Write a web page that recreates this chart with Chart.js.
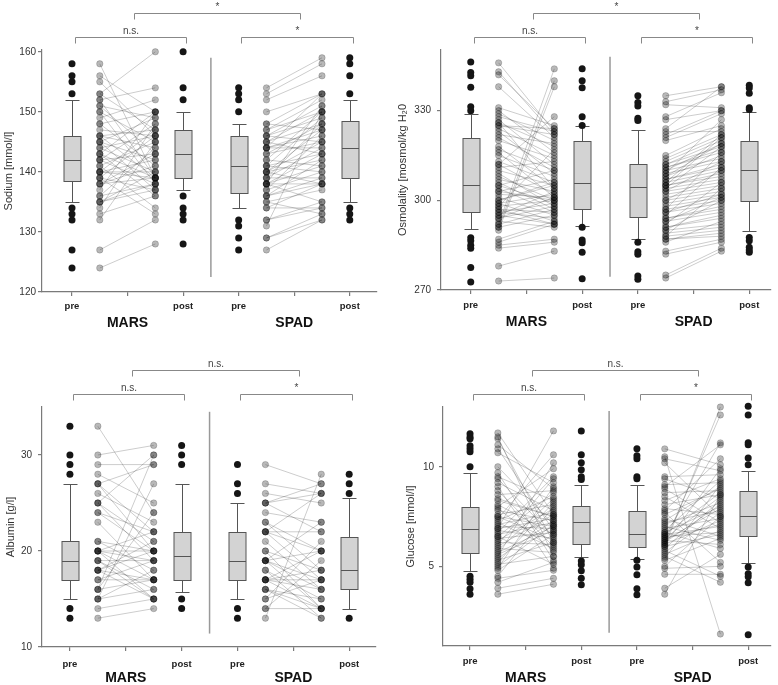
<!DOCTYPE html>
<html>
<head>
<meta charset="utf-8">
<script src="https://cdn.jsdelivr.net/npm/chart.js@4.4.1/dist/chart.umd.min.js"></script>
<style>
    body { margin: 0; background: #fff; }
    #grid { position: relative; width: 778px; height: 685px; overflow: hidden; }
    canvas { position: absolute; }
</style>
</head>
<body>
<div id="grid">
    <canvas id="cNa" width="389" height="342" style="left:0;top:0"></canvas>
    <canvas id="cOsm" width="389" height="342" style="left:389px;top:0"></canvas>
    <canvas id="cAlb" width="389" height="343" style="left:0;top:342px"></canvas>
    <canvas id="cGlu" width="389" height="343" style="left:389px;top:342px"></canvas>
</div>
<script>
// Kategorien / x-Positionen
const boxX = [1, 3, 4, 6];
const tickLabels = ['pre', 'post', 'pre', 'post'];
const groups = ['MARS', 'SPAD'];
const groupX = [2, 5];

// Natrium
const naMarsPre = [158,156,155,153,153,152,152,151,151,150,150,149,148,148,147,146,146,146,145,145,145,144,144,143,143,143,142,142,142,141,141,140,140,140,140,139,139,139,138,138,138,137,136,136,135,135,135,134,133,132,127,124];
const naMarsPost = [139,150,146,160,147,154,139,149,143,145,138,152,150,141,146,147,139,144,149,137,142,146,140,150,139,136,148,143,138,145,134,147,139,142,140,137,146,133,143,141,139,150,144,138,138,140,137,148,136,145,132,128];
const naSpadPre = [154,153,152,150,148,148,147,147,146,146,146,145,145,145,144,144,144,144,143,143,142,142,141,141,141,140,140,140,140,139,139,139,138,138,138,138,138,137,137,136,136,136,135,135,134,134,132,132,131,129,129,127];
const naSpadPost = [159,158,156,153,153,147,150,152,151,149,145,148,150,143,153,146,147,144,148,145,150,141,149,143,140,142,147,138,145,148,139,144,151,141,143,138,135,146,140,138,142,139,137,133,134,138,135,134,150,133,132,132];
// Boxplots: [Whisker unten, Q1, Median, Q3, Whisker oben] für MARS pre, MARS post, SPAD pre, SPAD post
const naBoxes = [[135,138.5,142,146,152],[137,139,143,147,150],[134,136.5,141,146,148],[135,139,144,148.5,152]];
const naOutliers = [[158,156,155,153,134,133,132,127,124],[160,154,152,136,134,133,132,128],[154,153,152,150,132,131,129,127],[159,158,156,153,134,133,132]];
const naYTicks = [120,130,140,150,160];
const naSig = ['*', 'n.s.', '*'];

// Osmolalität
const osmMarsPre = [346,343,342,338,331,330,329,328,327,326,325,325,324,323,322,321,320,318,317,316,315,313,312,311,310,309,308,307,306,305,305,304,303,302,301,300,299,299,298,298,297,296,296,295,295,294,293,292,292,291,291,290,287,286,285,284,278,273,312,303,300,297,294,326];
const osmMarsPost = [323,322,324,321,325,316,320,323,312,318,324,322,315,309,319,311,314,304,310,301,308,306,302,313,305,298,300,303,297,310,299,296,307,301,295,305,302,293,300,317,296,294,299,303,292,298,291,344,297,340,295,338,293,292,287,286,283,274,328,300,306,292,301,304];
const osmSpadPre = [335,333,332,328,327,324,323,322,321,320,315,314,313,312,312,311,311,310,310,309,309,308,307,307,306,306,305,305,304,304,303,303,302,301,300,300,299,298,297,297,296,295,294,294,293,292,291,291,290,290,289,288,288,287,287,286,283,282,275,274,305,308,296,293];
const osmSpadPost = [338,337,331,336,330,338,323,330,329,325,324,322,321,318,320,317,316,319,314,313,327,315,312,311,322,310,309,308,318,307,313,306,305,304,310,303,302,301,300,316,299,311,298,297,296,306,295,294,300,292,291,290,304,289,288,293,287,286,284,283,321,319,302,301];
const osmBoxes = [[290.4,296,305,321,329],[291.4,297.2,305.8,319.7,325],[287,294.5,304.5,312,323.5],[289.7,299.7,310,319.7,329.6]];
const osmOutliers = [[346.3,342.8,341.7,337.8,331.3,330,287.5,286.5,285,284,277.5,272.7],[344,340,337.7,328,325,291,286.7,285.8,282.6,273.8],[335,332.7,331.6,327.5,326.7,286,282.8,282,274.7,273.6],[338.5,337.6,335.8,331,330.4,287.6,286.5,284.3,283.4,282.6]];
const osmYTicks = [270,300,330];
const osmSig = ['*', 'n.s.', '*'];

// Albumin
const albMarsPre = [33,30,29,28,27,27,27,26,25,25,25,24,24,23,21,21,20,20,20,20,20,19,19,19,18,18,18,18,17,17,16,16,16,15,15,15,14,13];
const albMarsPost = [24,31,29,25,29,22,20,23,30,21,19,22,20,17,20,18,20,19,17,15,22,19,16,15,20,17,21,15,17,19,24,30,17,16,18,27,15,14];
const albSpadPre = [29,27,26,25,25,25,24,23,23,22,22,22,22,21,20,20,19,19,19,19,19,18,18,17,17,17,17,17,16,16,16,15,15,14,14,13];
const albSpadPost = [27,26,25,26,27,22,23,20,18,26,22,17,20,16,18,14,23,17,16,14,20,15,13,20,16,14,18,17,15,14,13,21,17,19,14,28];
const albBoxes = [[15,17,19,21,27],[15.7,17,19.5,22,27],[15,17,19,22,25],[14,16,18,21.5,25.5]];
const albOutliers = [[33,30,29,28,14,13],[31,30,29,15,14],[29,27,26,14,13],[28,27,26,13]];
const albYTicks = [10,20,30];
const albSig = ['n.s.', 'n.s.', '*'];

// Glukose
const gluMarsPre = [11.7,11.5,11.4,11.1,10.9,10.7,10.0,9.7,9.5,9.4,9.2,9.0,8.8,8.6,8.4,8.3,8.1,8.0,7.9,7.8,7.6,7.5,7.5,7.4,7.3,7.2,7.1,7.0,6.9,6.9,6.8,6.7,6.6,6.5,6.5,6.4,6.3,6.2,6.1,6.0,5.9,5.8,5.7,5.6,5.5,5.4,5.3,5.2,5.1,5.0,4.9,4.8,4.5,4.4,4.2,3.9,3.6];
const gluMarsPost = [7.6,5.5,6.2,8.9,6.8,9.2,7.1,5.3,8.3,6.5,7.8,4.9,6.0,8.8,7.5,7.5,6.6,9.9,5.8,7.3,8.1,7.0,6.3,10.6,8.5,5.9,7.7,6.9,11.8,7.4,6.4,9.5,7.2,5.1,8.7,6.7,7.9,6.1,9.4,7.6,5.7,8.4,7.0,6.8,10.2,7.3,6.2,8.2,5.5,7.1,9.0,6.6,8.0,4.8,5.2,4.4,4.1];
const gluSpadPre = [10.9,10.5,10.4,10.2,9.5,9.4,9.1,9.0,8.9,8.7,8.5,8.3,8.1,7.9,7.8,7.7,7.6,7.4,7.3,7.2,7.1,7.0,6.9,6.8,6.7,6.7,6.6,6.6,6.5,6.5,6.4,6.4,6.3,6.3,6.2,6.2,6.1,6.1,6.0,6.0,5.9,5.8,5.7,5.6,5.5,5.4,5.3,5.0,4.9,4.6,3.9,3.6];
const gluSpadPost = [10.1,1.6,9.8,7.5,9.6,8.4,9.2,11.1,7.2,8.8,6.9,9.4,8.6,7.6,10.4,5.2,8.9,6.5,9.0,7.8,8.2,6.3,7.4,9.3,8.0,5.9,7.0,8.7,6.7,11.2,8.5,7.1,7.9,6.1,12.6,8.1,7.3,9.9,13.0,6.6,8.3,4.5,7.7,6.8,4.2,9.1,6.4,7.5,5.0,4.6,5.6,8.6];
const gluBoxes = [[4.76,5.69,6.88,8.0,9.7],[5.45,6.14,7.23,8.04,9.1],[5.39,5.99,6.6,7.77,9.1],[5.18,6.51,7.53,8.76,9.8]];
const gluOutliers = [[11.66,11.5,11.4,11.06,10.9,10.75,10.0,4.5,4.35,4.2,3.88,3.6],[11.8,10.6,10.2,9.85,9.5,9.36,5.27,5.08,4.78,4.4,4.08],[10.9,10.55,10.4,9.5,9.4,5.3,4.97,4.58,3.88,3.57],[13.04,12.6,11.2,11.1,10.44,10.1,4.97,4.63,4.48,4.18,1.56]];
const gluYTicks = [5,10];
const gluSig = ['n.s.', 'n.s.', '*'];

Chart.defaults.font.family = '"Liberation Sans", Arial, sans-serif';

const axisColor = '#7a7a7a';

// Chart für ein Panel erzeugen
function makePanel(id, d, lay) {
    const datasets = [];
    const pairDots = [];

    // Verbindungslinien pre -> post
    [[d.marsPre, d.marsPost, 1.5], [d.spadPre, d.spadPost, 4.5]].forEach(function(g) {
        g[0].forEach(function(v, i) {
            datasets.push({
                data: [{x: g[2], y: v}, {x: g[2] + 1, y: g[1][i]}],
                showLine: true,
                borderColor: 'rgba(0, 0, 0, 0.2)',
                borderWidth: 1,
                pointRadius: 0,
                clip: false,
                order: 3
            });
            pairDots.push({x: g[2], y: v}, {x: g[2] + 1, y: g[1][i]});
        });
    });

    datasets.push({
        data: pairDots,
        pointRadius: 3.2,
        backgroundColor: 'rgba(0, 0, 0, 0.28)',
        borderColor: 'rgba(0, 0, 0, 0.3)',
        borderWidth: 0.6,
        clip: false,
        order: 1
    });

    const outPts = [];
    d.outliers.forEach(function(arr, k) {
        arr.forEach(function(v) { outPts.push({x: boxX[k], y: v}); });
    });
    datasets.push({
        data: outPts,
        pointRadius: 3.5,
        backgroundColor: '#151515',
        borderWidth: 0,
        clip: false,
        order: 0
    });

    // Boxplots, Trennlinie, Klammern, Gruppennamen
    const deco = {
        id: 'deco',
        beforeDatasetsDraw(chart) {
            const ctx = chart.ctx, xs = chart.scales.x, ys = chart.scales.y;
            ctx.save();
            ctx.strokeStyle = '#555';
            ctx.lineWidth = 1;
            d.boxes.forEach(function(b, k) {
                const cx = Math.round(xs.getPixelForValue(boxX[k])) + 0.5;
                const p = b.map(function(v) { return Math.round(ys.getPixelForValue(v)) + 0.5; });
                ctx.beginPath();
                ctx.moveTo(cx, p[4]); ctx.lineTo(cx, p[3]);
                ctx.moveTo(cx, p[1]); ctx.lineTo(cx, p[0]);
                ctx.moveTo(cx - 7, p[4]); ctx.lineTo(cx + 7, p[4]);
                ctx.moveTo(cx - 7, p[0]); ctx.lineTo(cx + 7, p[0]);
                ctx.stroke();
                ctx.fillStyle = '#d3d3d3';
                ctx.fillRect(cx - 8.5, p[3], 17, p[1] - p[3]);
                ctx.strokeRect(cx - 8.5, p[3], 17, p[1] - p[3]);
                ctx.beginPath();
                ctx.moveTo(cx - 8.5, p[2]); ctx.lineTo(cx + 8.5, p[2]);
                ctx.stroke();
            });
            ctx.restore();
        },
        afterDraw(chart) {
            const ctx = chart.ctx, xs = chart.scales.x, ys = chart.scales.y;
            const top = chart.chartArea.top, bottom = chart.chartArea.bottom;
            ctx.save();

            // Trennlinie MARS | SPAD
            ctx.strokeStyle = '#999';
            ctx.lineWidth = 1.5;
            ctx.beginPath();
            ctx.moveTo(xs.getPixelForValue(3.5), ys.getPixelForValue(d.divider[1]));
            ctx.lineTo(xs.getPixelForValue(3.5), ys.getPixelForValue(d.divider[0]));
            ctx.stroke();

            // Signifikanz-Klammern
            const brackets = [[2.12, 5.1, d.sig[0], 37], [1.05, 3.05, d.sig[1], 13], [4.05, 6.05, d.sig[2], 13]];
            ctx.strokeStyle = '#888';
            ctx.lineWidth = 1;
            ctx.fillStyle = '#444';
            ctx.font = '10px "Liberation Sans", Arial, sans-serif';
            ctx.textAlign = 'center';
            ctx.textBaseline = 'bottom';
            brackets.forEach(function(b) {
                const x1 = Math.round(xs.getPixelForValue(b[0])) + 0.5;
                const x2 = Math.round(xs.getPixelForValue(b[1])) + 0.5;
                const y = Math.round(top - b[3]) + 0.5;
                ctx.beginPath();
                ctx.moveTo(x1, y + 6); ctx.lineTo(x1, y); ctx.lineTo(x2, y); ctx.lineTo(x2, y + 6);
                ctx.stroke();
                ctx.fillText(b[2], (x1 + x2) / 2, y - 1);
            });

            // Gruppennamen
            ctx.fillStyle = '#111';
            ctx.font = 'bold 14px "Liberation Sans", Arial, sans-serif';
            ctx.textBaseline = 'middle';
            groups.forEach(function(g, k) {
                ctx.fillText(g, xs.getPixelForValue(groupX[k]), bottom + lay.groupY);
            });
            ctx.restore();
        }
    };

    return new Chart(document.getElementById(id), {
        type: 'scatter',
        data: { datasets: datasets },
        plugins: [deco],
        options: {
            responsive: false,
            animation: false,
            devicePixelRatio: 1,
            layout: { padding: { left: 0, top: lay.top, right: lay.right, bottom: 0 } },
            plugins: { legend: { display: false }, tooltip: { enabled: false } },
            scales: {
                x: {
                    type: 'linear',
                    min: lay.xMin,
                    max: lay.xMax,
                    afterBuildTicks: function(s) { s.ticks = [1, 2, 3, 4, 5, 6].map(function(v) { return {value: v}; }); },
                    afterFit: function(s) { s.height = lay.xHeight; },
                    ticks: {
                        autoSkip: false,
                        maxRotation: 0,
                        padding: lay.xPad,
                        color: '#222',
                        font: { size: 9.5, weight: 'bold' },
                        callback: function(v) {
                            const k = boxX.indexOf(v);
                            return k >= 0 ? tickLabels[k] : '';
                        }
                    },
                    grid: { drawOnChartArea: false, tickLength: 4, color: axisColor, lineWidth: 1.2 },
                    border: { color: axisColor, width: 1.2 }
                },
                y: {
                    min: d.yMin,
                    max: d.yMax,
                    afterBuildTicks: function(s) { s.ticks = d.yTicks.map(function(v) { return {value: v}; }); },
                    afterFit: function(s) { s.width = lay.left; },
                    ticks: { padding: lay.tickPad, color: '#333', font: { size: 10 } },
                    grid: { drawOnChartArea: false, tickLength: 4, color: axisColor, lineWidth: 1.2 },
                    border: { color: axisColor, width: 1.2 },
                    title: {
                        display: true,
                        text: d.title,
                        color: '#333',
                        font: { size: 11 },
                        padding: { top: lay.titlePad, bottom: 0 }
                    }
                }
            }
        }
    });
}

document.addEventListener('DOMContentLoaded', function() {
    makePanel('cNa', {
        marsPre: naMarsPre, marsPost: naMarsPost, spadPre: naSpadPre, spadPost: naSpadPost,
        boxes: naBoxes, outliers: naOutliers, yTicks: naYTicks, sig: naSig,
        yMin: 120, yMax: 160.3, divider: [122.5, 159], title: 'Sodium [mmol/l]'
    }, { left: 42, top: 50, right: 12, xHeight: 50, xMin: 0.46, xMax: 6.49, xPad: 5, tickPad: 2, titlePad: 2, groupY: 31.5 });

    makePanel('cOsm', {
        marsPre: osmMarsPre, marsPost: osmMarsPost, spadPre: osmSpadPre, spadPost: osmSpadPost,
        boxes: osmBoxes, outliers: osmOutliers, yTicks: osmYTicks, sig: osmSig,
        yMin: 270, yMax: 350.3, divider: [274.4, 348], title: 'Osmolality [mosmol/kg H\u20820'
    }, { left: 52, top: 50, right: 7, xHeight: 52, xMin: 0.466, xMax: 6.39, xPad: 6, tickPad: 6, titlePad: 7, groupY: 32.5 });

    makePanel('cAlb', {
        marsPre: albMarsPre, marsPost: albMarsPost, spadPre: albSpadPre, spadPost: albSpadPost,
        boxes: albBoxes, outliers: albOutliers, yTicks: albYTicks, sig: albSig,
        yMin: 10, yMax: 35, divider: [11.4, 34.5], title: 'Albumin [g/l]'
    }, { left: 42, top: 65, right: 13, xHeight: 38, xMin: 0.5, xMax: 6.48, xPad: 8, tickPad: 6, titlePad: 4, groupY: 31.5 });

    makePanel('cGlu', {
        marsPre: gluMarsPre, marsPost: gluMarsPost, spadPre: gluSpadPre, spadPost: gluSpadPost,
        boxes: gluBoxes, outliers: gluOutliers, yTicks: gluYTicks, sig: gluSig,
        yMin: 1, yMax: 13, divider: [1.66, 12.8], title: 'Glucose [mmol/l]'
    }, { left: 54, top: 65, right: 7, xHeight: 39, xMin: 0.514, xMax: 6.41, xPad: 6, tickPad: 5, titlePad: 15, groupY: 32.5 });
});
</script>
</body>
</html>
